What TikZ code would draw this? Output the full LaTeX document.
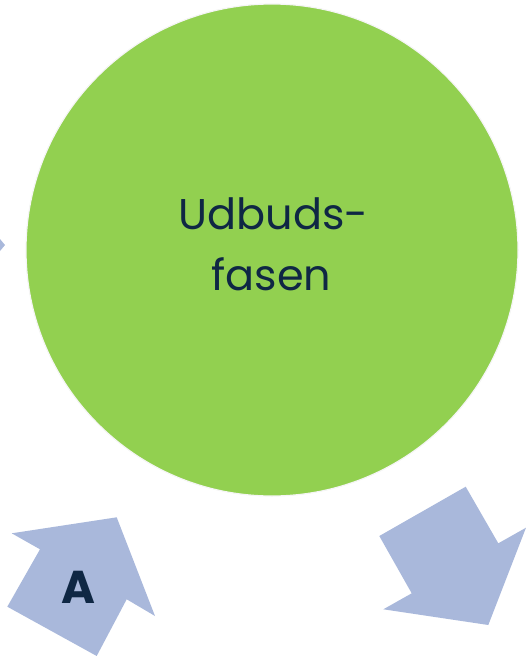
\documentclass[tikz,border=0pt]{standalone}
\usepackage{fontspec}
\setmainfont{Poppins}
\definecolor{cgreen}{HTML}{92D050}
\definecolor{carrow}{HTML}{A9B8DB}
\definecolor{cnavy}{HTML}{0F2744}
\begin{document}
\begin{tikzpicture}[x=1pt,y=-1pt,
  arrowshape/.style={fill=carrow,draw=none},
  lbl/.style={text=cnavy,inner sep=0pt,anchor=base,font=\fontsize{43}{43}\selectfont}]
\useasboundingbox (0,0) rectangle (526,656);
% left arrow tip
\fill[carrow] (0,239) -- (5,245) -- (0,251) -- cycle;
% big circle
\node[circle,fill=cgreen,draw=white!92!gray,line width=1.2pt,minimum size=492pt,inner sep=0pt] (c) at (272,250) {};
\node[lbl] (l1) at (273.5,229) {Udbuds-};
\node[lbl] (l2) at (271.5,290) {fasen};
% bottom-left arrow
\fill[arrowshape] (11.7,533.3) -- (116.7,517.3) -- (155,616) -- (126.7,599.3) -- (96.7,656) -- (7.3,606.7) -- (40,549.3) -- cycle;
\node[text=cnavy,inner sep=0pt,anchor=base,font=\bfseries\fontsize{46}{46}\selectfont] (A) at (78.5,603) {A};
% bottom-right arrow
\fill[arrowshape] (379.3,536) -- (465.7,486.7) -- (498.3,543.3) -- (526,527.7) -- (488.3,625) -- (383.3,609.3) -- (411.7,593.3) -- cycle;
\end{tikzpicture}
\end{document}
